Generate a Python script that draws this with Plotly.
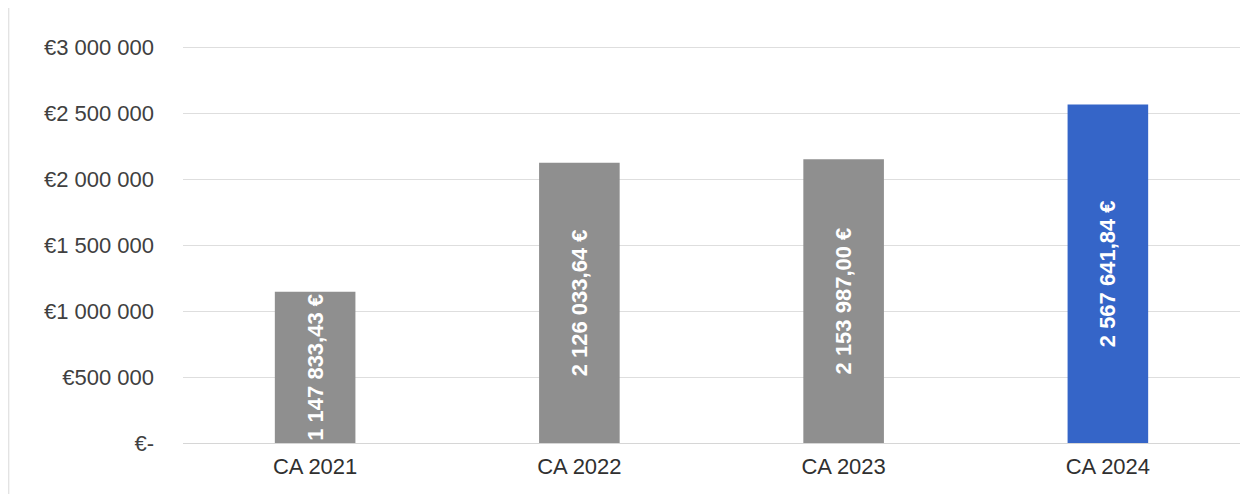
import plotly.graph_objects as go

# ── Data ────────────────────────────────────────────────────────────────
categories = ["CA 2021", "CA 2022", "CA 2023", "CA 2024"]
values = [1147833.43, 2126033.64, 2153987.00, 2567641.84]
bar_labels = ["1 147 833,43 €", "2 126 033,64 €", "2 153 987,00 €", "2 567 641,84 €"]
bar_colors = ["#8f8f8f", "#8f8f8f", "#8f8f8f", "#3565c8"]

tick_vals = [0, 500000, 1000000, 1500000, 2000000, 2500000, 3000000]
tick_text = ["€-", "€500 000", "€1 000 000", "€1 500 000",
             "€2 000 000", "€2 500 000", "€3 000 000"]

FONT = "'Liberation Sans', Arial, sans-serif"

fig = go.Figure()
fig.add_trace(go.Bar(
    x=categories,
    y=values,
    marker=dict(color=bar_colors, line=dict(width=0)),
    width=0.305,
    text=bar_labels,
    texttemplate="%{text}",
    textposition="inside",
    insidetextanchor="middle",
    textangle=-90,
    constraintext="none",
    cliponaxis=False,
    textfont=dict(family=FONT, size=22, color="white", weight="bold"),
    hoverinfo="skip",
))

# light frame round the chart
fig.add_shape(type="rect", xref="paper", yref="paper",
              x0=-0.165, x1=1.011, y0=-0.14, y1=1.10,
              line=dict(color="#e3e3e3", width=1.5), layer="below")

fig.update_layout(
    width=1244, height=486,
    margin=dict(l=175, r=12, t=37, b=51),
    paper_bgcolor="white",
    plot_bgcolor="white",
    showlegend=False,
    font=dict(family=FONT, color="#404040", size=22),
    xaxis=dict(
        showgrid=False, showline=False, zeroline=False,
        ticks="", ticklabelstandoff=8,
        tickfont=dict(size=22, color="#303030"),
    ),
    yaxis=dict(
        range=[0, 3020000],
        tickvals=tick_vals, ticktext=tick_text,
        showgrid=True, gridcolor="#dedede", gridwidth=1,
        zeroline=True, zerolinecolor="#d6d6d6", zerolinewidth=1,
        showline=False, ticks="", ticklabelstandoff=28,
        tickfont=dict(size=22, color="#404040"),
    ),
)

fig.write_html("out.html")
